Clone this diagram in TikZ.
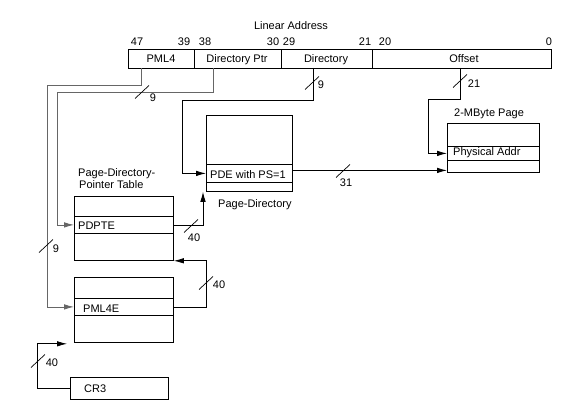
\documentclass[tikz,border=0pt]{standalone}
\usepackage{fontspec}
\setmainfont{Liberation Sans}
\usetikzlibrary{arrows.meta}
\begin{document}
\begin{tikzpicture}[x=1pt,y=-1pt,font=\fontsize{11}{13}\selectfont,
  box/.style={draw,line width=0.8pt,inner sep=0pt,anchor=north west},
  conn/.style={line width=0.8pt},
  lconn/.style={line width=0.8pt,draw=black!60},
  arr/.style={-{Latex[length=10pt,width=5.5pt]}},
  lbl/.style={inner sep=0pt,anchor=base west},
  num/.style={inner sep=0pt,anchor=base},
  cnum/.style={inner sep=0pt},
  slashmark/.pic={\draw[line width=0.7pt] (-7,6.5) -- (7,-6.5);}]
\useasboundingbox (0,0) rectangle (575,409);
% linear address
\node[num] (la) at (291,30) {Linear Address};
\node[box,minimum width=66pt,minimum height=19pt] (fpml4) at (128,49) {};
\node[box,minimum width=87pt,minimum height=19pt] (fdp) at (194,49) {};
\node[box,minimum width=91pt,minimum height=19pt] (fdir) at (281,49) {};
\node[box,minimum width=179pt,minimum height=19pt] (foff) at (372,49) {};
\node[num] (t1) at (161,63) {PML4};
\node[num] (t2) at (237,63) {Directory Ptr};
\node[num] (t3) at (326,63) {Directory};
\node[num] (t4) at (464,63) {Offset};
\node[num] (b47) at (137,46) {47};
\node[num] (b39) at (184,46) {39};
\node[num] (b38) at (205,46) {38};
\node[num] (b30) at (273,46) {30};
\node[num] (b29) at (289,46) {29};
\node[num] (b21) at (365,46) {21};
\node[num] (b20) at (385,46) {20};
\node[num] (b0) at (549,46) {0};
\coordinate (tapA) at (141,68);
\coordinate (tapB) at (213,68);
\coordinate (tapC) at (313,68);
\coordinate (tapD) at (460,68);
% page directory
\node[box,minimum width=86pt,minimum height=76pt] (pd) at (206,115) {};
\node[box,minimum width=86pt,minimum height=18pt] (pde) at (206,164) {};
\node[lbl] (pdet) at (210,178) {PDE with PS=1};
\node[lbl] (pdl) at (218,207) {Page-Directory};
% 2-MByte page
\node[box,minimum width=92pt,minimum height=49pt] (pg) at (447,123) {};
\node[box,minimum width=92pt,minimum height=14pt] (phys) at (447,146) {};
\node[lbl] (physt) at (453,155) {Physical Addr};
\node[lbl] (pgl) at (454,117) {2-MByte Page};
% PDPT
\node[box,minimum width=99pt,minimum height=64pt] (pdpt) at (74,196) {};
\node[box,minimum width=99pt,minimum height=17pt] (pdpte) at (74,216) {};
\node[lbl] (pdptet) at (78,229) {PDPTE};
\node[lbl] (pdptl1) at (78,176.5) {Page-Directory-};
\node[lbl] (pdptl2) at (79,188) {Pointer Table};
% PML4
\node[box,minimum width=99pt,minimum height=65pt] (pml4) at (74,277) {};
\node[box,minimum width=99pt,minimum height=17pt] (pml4e) at (74,298) {};
\node[lbl] (pml4et) at (83,312) {PML4E};
% CR3
\node[box,minimum width=98pt,minimum height=22pt] (cr3) at (70,377) {};
\node[lbl] (cr3t) at (84,392) {CR3};
% connectors
\draw[lconn,arr] (tapA) -- (141,85) -- (47,85) |- (pml4e.west);
\draw[lconn,arr] (tapB) -- (213,92) -- (57,92) |- (pdpte.west);
\draw[conn,arr] (tapC) -- (313,100) -- (182,100) |- (pde.west);
\draw[conn,arr] (tapD) -- (460,99) -- (428,99) |- (phys.west);
\draw[conn,arr] ([yshift=3pt]pde.east) -- ([yshift=3pt]pde.east -| pg.west);
\draw[conn,arr] (pdpte.east) -| ([xshift=-3pt]pd.south west);
\draw[conn,arr] (pml4e.east) -- ++(33,0) |- (pdpt.south east);
\draw[conn,arr] (cr3.west) -- ++(-33,0) |- ([xshift=-7pt,yshift=-1pt]pml4.south west);
% slashes and widths
\pic at (142,92) {slashmark};
\node[cnum] (n1) at (153,97.5) {9};
\pic at (46,246) {slashmark};
\node[cnum] (n2) at (56,249) {9};
\pic at (312,83) {slashmark};
\node[cnum] (n3) at (321,85) {9};
\pic at (460,81) {slashmark};
\node[cnum] (n4) at (474,84) {21};
\pic at (343,171) {slashmark};
\node[cnum] (n5) at (346,183) {31};
\pic at (191,226) {slashmark};
\node[cnum] (n6) at (194,238) {40};
\pic at (206,283) {slashmark};
\node[cnum] (n7) at (219,285) {40};
\pic at (38,361) {slashmark};
\node[cnum] (n8) at (52,363) {40};
\end{tikzpicture}
\end{document}
